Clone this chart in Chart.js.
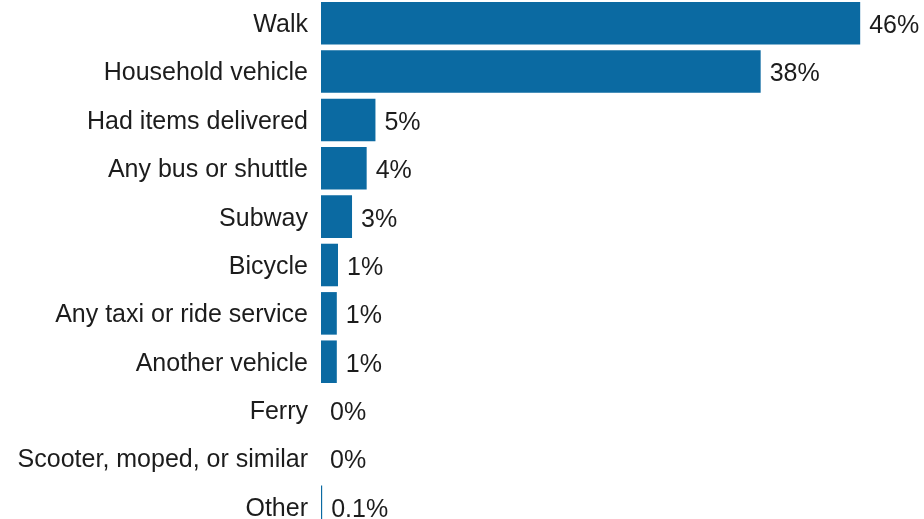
<!DOCTYPE html>
<html>
<head>
<meta charset="utf-8">
<title>Travel mode share</title>
<script src="https://cdn.jsdelivr.net/npm/chart.js@4/dist/chart.umd.min.js"></script>
<style>
html, body { margin: 0; padding: 0; background: #fff; overflow: hidden; }
#wrap { position: relative; top: -1px; width: 924px; height: 532px; }
</style>
</head>
<body>
<div id="wrap"><canvas id="modeChart"></canvas></div>
<script>
// modes, in display order
const modes = [
  'Walk',
  'Household vehicle',
  'Had items delivered',
  'Any bus or shuttle',
  'Subway',
  'Bicycle',
  'Any taxi or ride service',
  'Another vehicle',
  'Ferry',
  'Scooter, moped, or similar',
  'Other'
];

// share of trips, percent
const shares = [46.05, 37.55, 4.65, 3.9, 2.65, 1.45, 1.35, 1.35, 0, 0, 0.1];

const barColor = '#0b6aa2';
const textColor = '#1c1c1c';
const fontFamily = '"Liberation Sans", Arial, sans-serif';

function fmtShare(v) {
  if (v === 0) return '0%';
  if (v < 0.5) return v.toFixed(1) + '%';
  return Math.round(v) + '%';
}

// writes the share just past the end of each bar
const valueLabels = {
  id: 'valueLabels',
  afterDatasetsDraw(chart) {
    const ctx = chart.ctx;
    const meta = chart.getDatasetMeta(0);
    ctx.save();
    ctx.font = '25px ' + fontFamily;
    ctx.fillStyle = textColor;
    ctx.textAlign = 'left';
    ctx.textBaseline = 'middle';
    meta.data.forEach((bar, i) => {
      const v = chart.data.datasets[0].data[i];
      ctx.fillText(fmtShare(v), bar.x + 9, bar.y + 3);
    });
    ctx.restore();
  }
};

new Chart(
  document.getElementById('modeChart'),
  {
    type: 'bar',
    data: {
      labels: modes,
      datasets: [{
        data: shares,
        backgroundColor: barColor,
        borderWidth: 0,
        categoryPercentage: 1,
        barPercentage: 0.88
      }]
    },
    options: {
      indexAxis: 'y',
      responsive: true,
      maintainAspectRatio: false,
      animation: false,
      layout: { padding: 0 },
      plugins: {
        legend: { display: false },
        tooltip: { enabled: false }
      },
      scales: {
        x: {
          display: false,
          min: 0,
          max: 51.5
        },
        y: {
          border: { display: false },
          grid: { display: false, drawTicks: false },
          ticks: {
            color: textColor,
            padding: 13,
            labelOffset: 2,
            font: { family: fontFamily, size: 25 }
          },
          afterFit(scale) {
            scale.width = 321;
            // let the rows use the full height
            scale.paddingTop = 0;
            scale.paddingBottom = 0;
          }
        }
      }
    },
    plugins: [valueLabels]
  }
);
</script>
</body>
</html>
